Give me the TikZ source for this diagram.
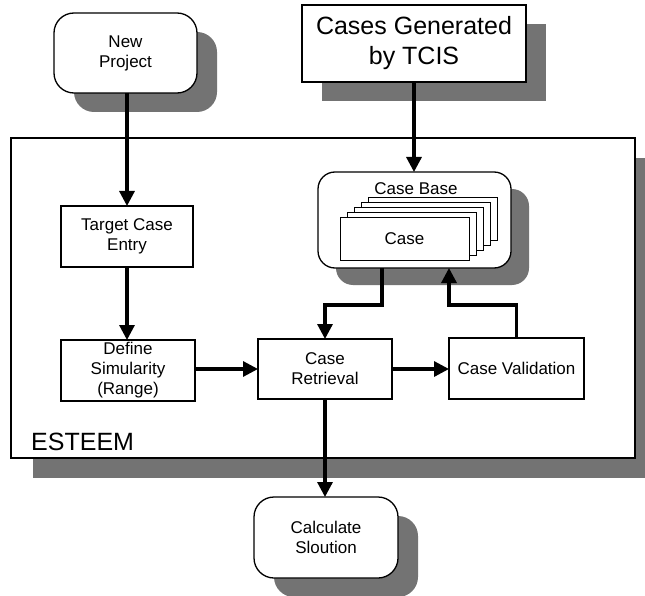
\documentclass[tikz,border=0pt]{standalone}
\usepackage{fontspec}
\setmainfont{Liberation Sans}
\usetikzlibrary{shadows,arrows.meta,calc}
\begin{document}
\begin{tikzpicture}[x=1pt,y=-1pt,
  shd/.style={drop shadow={shadow xshift=20pt,shadow yshift=-19pt,fill=black!55,opacity=1}},
  box/.style={draw,line width=1.3pt,fill=white,inner sep=0pt,outer sep=0pt,align=center,
    font=\fontsize{17}{20}\selectfont},
  rbox/.style={box,rounded corners=20pt},
  card/.style={draw,line width=1pt,fill=white},
  arr/.style={line width=3.2pt,-{Triangle[length=15pt,width=15pt]}},
  ln/.style={line width=3pt}]
\useasboundingbox (0,0) rectangle (645,596);
% ESTEEM frame
\node[box,drop shadow={shadow xshift=22pt,shadow yshift=-20pt,fill=black!55,opacity=1},
  minimum width=624pt,minimum height=320pt] (es) at (323,298) {};
\node[anchor=base west,font=\fontsize{25}{30}\selectfont,inner sep=0pt] (eslabel) at (31,450) {ESTEEM};
% top boxes
\node[rbox,shd,minimum width=143pt,minimum height=80pt] (np) at (125.5,53) {New\\Project};
\node[box,shd,minimum width=224pt,minimum height=77pt,font=\fontsize{25}{30}\selectfont] (tc) at (414,43.5) {Cases Generated\\by TCIS};
% inner boxes
\node[box,minimum width=132pt,minimum height=61pt] (te) at (127,236.5) {Target Case\\Entry};
\node[rbox,rounded corners=17pt,drop shadow={shadow xshift=18pt,shadow yshift=-17pt,fill=black!55,opacity=1},
  minimum width=193pt,minimum height=96pt] (cb) at (414.5,220) {};
\node[anchor=base,inner sep=0pt,font=\fontsize{17}{20}\selectfont] (cblabel) at (416,195) {Case Base};
\foreach \k in {4,3,2,1}{
  \draw[card] ({340+7*\k},{218-5*\k}) rectangle ({469+7*\k},{260-5*\k});
}
\node[box,line width=1pt,minimum width=129pt,minimum height=42pt] (case) at (404.5,239) {Case};
\node[box,minimum width=134pt,minimum height=61pt] (cd) at (128,370.5) {Define\\Simularity\\(Range)};
\node[box,minimum width=134pt,minimum height=60pt] (cr) at (325,369) {Case\\Retrieval};
\node[box,minimum width=135pt,minimum height=61pt] (cv) at (516.5,368.5) {Case Validation};
\node[rbox,shd,minimum width=144pt,minimum height=81pt] (cs) at (326,537.5) {Calculate\\Sloution};
\coordinate (j1) at (0,305);
% connectors
\draw[arr] (te.north |- np.south) -- (te.north);
\draw[arr] (tc.south) -- (tc.south |- cb.north);
\draw[arr] (te.south) -- (te.south |- cd.north);
\draw[arr] ([xshift=-32.5pt]cb.south) -- ([xshift=-32.5pt]cb.south |- j1) -| (cr.north);
\draw[arr] (cv.north) -- (cv.north |- j1) -| ([xshift=34.5pt]cb.south);
\draw[arr] (cd.east |- cr.west) -- (cr.west);
\draw[arr] (cr.east) -- (cr.east -| cv.west);
\draw[arr] (cr.south) -- (cr.south |- cs.north);
\end{tikzpicture}
\end{document}
